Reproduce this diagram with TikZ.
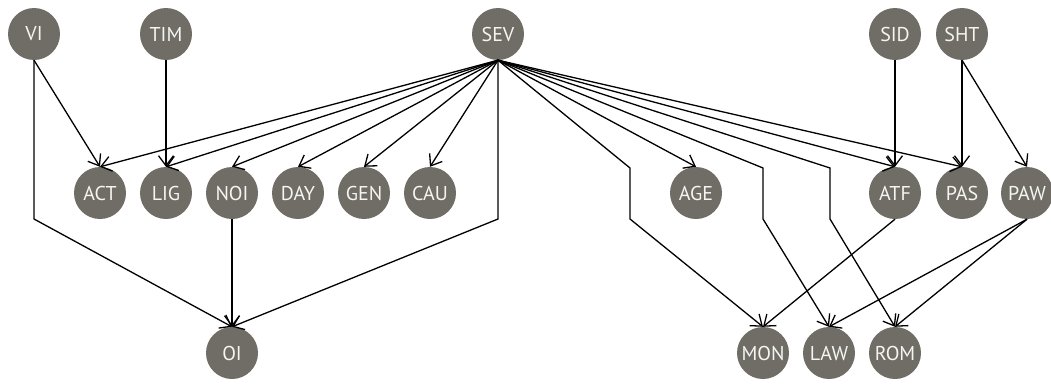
\documentclass[tikz,border=0pt]{standalone}
\usepackage{fontspec}
\setmainfont{PT Sans}
\usetikzlibrary{arrows.meta}
\definecolor{nodegray}{RGB}{111,109,101}
\definecolor{labelwhite}{RGB}{245,245,242}
\begin{document}
\begin{tikzpicture}[x=1pt,y=-1pt,
  var/.style={circle,fill=nodegray,minimum size=52pt,inner sep=0pt,
    text=labelwhite,font=\fontsize{20}{20}\selectfont},
  link/.style={draw=black,line width=1.3pt,line join=miter,
    -{Straight Barb[length=10pt,width=15pt,line width=1.3pt]}}]
\useasboundingbox (0,0) rectangle (1051,383);

% top row
\node[var] (VI)  at (34,34)  {VI};
\node[var] (TIM) at (166,34) {TIM};
\node[var] (SEV) at (498,34) {SEV};
\node[var] (SID) at (895,34) {SID};
\node[var] (SHT) at (962,34) {SHT};

% middle row
\node[var] (ACT) at (100,193) {ACT};
\node[var] (LIG) at (166,193) {LIG};
\node[var] (NOI) at (232,193) {NOI};
\node[var] (DAY) at (298,193) {DAY};
\node[var] (GEN) at (364,193) {GEN};
\node[var] (CAU) at (430,193) {CAU};
\node[var] (AGE) at (696,193) {AGE};
\node[var] (ATF) at (895,193) {ATF};
\node[var] (PAS) at (962,193) {PAS};
\node[var] (PAW) at (1027,193) {PAW};

% bottom row
\node[var] (OI)  at (232,353) {OI};
\node[var] (MON) at (763,353) {MON};
\node[var] (LAW) at (829,353) {LAW};
\node[var] (ROM) at (895,353) {ROM};

% bend points of routed links
\coordinate (viD)  at (34,219);
\coordinate (sevD) at (498,219);
\coordinate (monU) at (630,168);
\coordinate (monD) at (630,219);
\coordinate (lawU) at (763,168);
\coordinate (lawD) at (763,219);
\coordinate (romU) at (830,168);
\coordinate (romD) at (830,219);

% straight links
\draw[link] (VI.south)  -- (ACT.north);
\draw[link] (TIM.south) -- (LIG.north);
\foreach \t in {ACT,LIG,NOI,DAY,GEN,CAU,AGE,ATF,PAS}
  \draw[link] (SEV.south) -- (\t.north);
\draw[link] (SID.south) -- (ATF.north);
\draw[link] (SHT.south) -- (PAS.north);
\draw[link] (SHT.south) -- (PAW.north);
\draw[link] (NOI.south) -- (OI.north);
\draw[link] (ATF.south) -- (MON.north);
\draw[link] (PAW.south) -- (LAW.north);
\draw[link] (PAW.south) -- (ROM.north);

% routed links
\draw[link] (VI.south)  -- (viD) -- (OI.north);
\draw[link] (SEV.south) -- (sevD) -- (OI.north);
\draw[link] (SEV.south) -- (monU) -- (monD) -- (MON.north);
\draw[link] (SEV.south) -- (lawU) -- (lawD) -- (LAW.north);
\draw[link] (SEV.south) -- (romU) -- (romD) -- (ROM.north);
\end{tikzpicture}
\end{document}
